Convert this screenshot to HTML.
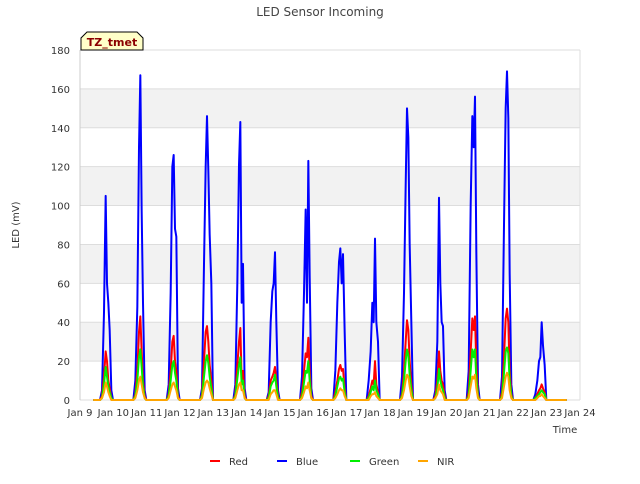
<!DOCTYPE html>
<html><head><meta charset="utf-8"><style>
body{margin:0;background:#fff;font-family:"DejaVu Sans",sans-serif;}
svg text{font-family:"DejaVu Sans",sans-serif;}
</style></head><body>
<svg width="640" height="480" id="c">
<text x="320" y="16" text-anchor="middle" font-size="12" fill="#444">LED Sensor Incoming</text>
<text x="19" y="225" text-anchor="middle" font-size="10" fill="#333" transform="rotate(-90 19 225)">LED (mV)</text>
<text x="565" y="433" text-anchor="middle" font-size="10" fill="#333">Time</text>
<g id="grid"></g>
<g id="plot"></g>
<g id="ticks"></g>
<g>
<path d="M81,50 L81,38 L87,32 L137,32 L143,38 L143,50 Z" fill="#ffffc8" stroke="#000" stroke-width="1"/>
<text x="112" y="46" text-anchor="middle" font-size="11" font-weight="bold" fill="#8b0000">TZ_tmet</text>
</g>
<g id="legend"></g>
</svg>
<script>
const yTicks=[0,20,40,60,80,100,120,140,160,180];
const xTickLabels=["Jan 9","Jan 10","Jan 11","Jan 12","Jan 13","Jan 14","Jan 15","Jan 16","Jan 17","Jan 18","Jan 19","Jan 20","Jan 21","Jan 22","Jan 23","Jan 24"];
const dayStarts=[9,10,11,12,13,14,15,16,17,18,19,20,21,22];
const offsets=[0.6,0.66,0.72,0.77,0.81,0.85,0.89,0.94,0.99,1.05];
const blue=[[0,5,45,105,60,50,36,5,0,0],[0,10,48,130,167,97,50,5,0,0],[0,8,55,120,126,88,84,6,0,0],[0,6,70,120,146,118,85,60,0,0],[0,8,60,121,143,50,70,6,0,0],[0,4,40,56,60,76,40,5,0,0],[0,12,55,98,50,123,64,6,0,0],[0,15,50,71,78,60,75,35,0,0],[0,10,25,50,40,83,40,30,0,0],[0,12,55,110,150,135,80,40,0,0],[0,5,30,104,60,40,38,5,0,0],[0,15,100,146,130,156,76,8,0,0],[0,12,90,150,169,145,65,8,0,0],[0,3,10,20,22,40,28,18,0,0]];
const red=[[0,2,12,25,20,10,6,1,0,0],[0,3,15,35,43,25,10,2,0,0],[0,3,15,30,33,20,15,2,0,0],[0,3,20,35,38,30,18,10,0,0],[0,3,18,30,37,10,15,2,0,0],[0,2,10,12,14,17,10,2,0,0],[0,4,15,24,22,32,15,2,0,0],[0,4,10,16,18,15,16,6,0,0],[0,2,6,10,8,20,8,4,0,0],[0,3,15,30,41,36,20,8,0,0],[0,2,10,25,15,10,8,2,0,0],[0,4,25,42,36,43,18,3,0,0],[0,4,22,42,47,40,15,3,0,0],[0,1,3,5,6,8,6,4,0,0]];
const green=[[0,1,8,17,12,7,4,1,0,0],[0,2,10,22,26,17,7,1,0,0],[0,2,10,18,20,14,10,1,0,0],[0,2,12,20,23,19,12,6,0,0],[0,2,11,18,22,8,10,1,0,0],[0,1,7,9,10,13,7,1,0,0],[0,2,9,15,14,20,10,1,0,0],[0,2,7,11,12,10,11,4,0,0],[0,1,4,7,5,10,5,3,0,0],[0,2,10,20,26,23,13,5,0,0],[0,1,6,16,10,7,5,1,0,0],[0,2,15,26,22,26,11,2,0,0],[0,2,14,25,27,24,10,2,0,0],[0,1,2,3,4,5,4,3,0,0]];
const nir=[[0,1,4,9,7,4,2,0,0,0],[0,1,5,10,12,8,4,1,0,0],[0,1,5,8,9,7,5,1,0,0],[0,1,6,9,10,9,6,3,0,0],[0,1,5,8,9,5,5,1,0,0],[0,0,3,4,5,5,3,0,0,0],[0,1,4,7,6,9,5,1,0,0],[0,1,3,5,6,5,5,2,0,0],[0,0,2,3,3,4,2,1,0,0],[0,1,5,10,13,12,7,2,0,0],[0,1,3,8,5,4,3,0,0,0],[0,1,7,12,11,13,6,1,0,0],[0,1,7,12,14,12,5,1,0,0],[0,0,1,2,2,3,2,1,0,0]];
const X0=80,X1=580,Y0=400,Y1=50;
const xs=d=>X0+(d-9)/15*(X1-X0);
const ys=v=>Y0-v/180*(Y0-Y1);
const NS="http://www.w3.org/2000/svg";
function mk(t,a,p){const e=document.createElementNS(NS,t);for(const k in a)e.setAttribute(k,a[k]);p.appendChild(e);return e;}
const grid=document.getElementById('grid');
for(let i=0;i<yTicks.length-1;i++){if(i%2===1){const r=mk('rect',{x:X0,y:ys(yTicks[i+1]),width:X1-X0,height:ys(yTicks[i])-ys(yTicks[i+1]),fill:'#f2f2f2'},grid);

}}
const ticks=document.getElementById('ticks');
yTicks.forEach(v=>{const l=mk('line',{x1:X0,x2:X1,y1:ys(v),y2:ys(v),stroke:'#ddd','stroke-width':1},grid);


const t=mk('text',{x:X0-10,y:ys(v)+4,'text-anchor':'end','font-size':10,fill:'#333'},ticks);t.textContent=v;

});
mk('line',{x1:X0,x2:X0,y1:Y1,y2:Y0,stroke:'#ccc'},grid);
mk('line',{x1:X1,x2:X1,y1:Y1,y2:Y0,stroke:'#ddd'},grid);
xTickLabels.forEach((s,i)=>{const t=mk('text',{x:xs(9+i),y:Y0+16,'text-anchor':'middle','font-size':10,fill:'#333'},ticks);t.textContent=s;

});
const plot=document.getElementById('plot');
function series(data,color,name){let pts=[[xs(9.4),ys(0)]];dayStarts.forEach((d,i)=>offsets.forEach((o,j)=>pts.push([xs(d+o),ys(data[i][j])])));pts.push([xs(23.6),ys(0)]);
const p=mk('polyline',{points:pts.map(q=>q.join(',')).join(' '),fill:'none',stroke:color,'stroke-width':2,'stroke-linejoin':'round'},plot);

}
series(blue,'#0000ff','series-blue');series(red,'#ff0000','series-red');series(green,'#00ee00','series-green');series(nir,'#ffa500','series-nir');
const leg=document.getElementById('legend');
const legNames=["Red","Blue","Green","NIR"],legColors=["#ff0000","#0000ff","#00ee00","#ffa500"],legX=[210,277,350,418];
legNames.forEach((n,i)=>{const g=mk('g',{},leg);


mk('line',{x1:legX[i],x2:legX[i]+10,y1:461,y2:461,stroke:legColors[i],'stroke-width':2},g);
const t=mk('text',{x:legX[i]+19,y:465,'font-size':10,fill:'#333'},g);t.textContent=n;});
</script>
</body></html>
